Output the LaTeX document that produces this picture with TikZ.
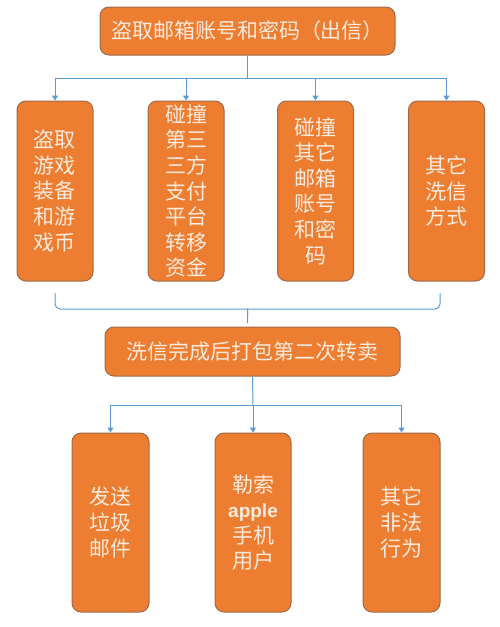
\documentclass[tikz,border=0pt]{standalone}
\usepackage{fontspec}
\newfontfamily\cjk{Noto Sans CJK SC}
\newfontfamily\lat{Liberation Sans}
\usetikzlibrary{arrows.meta}
\definecolor{boxfill}{HTML}{ED7D31}
\definecolor{boxline}{HTML}{A06A48}
\definecolor{txt}{HTML}{FDEBDD}
\definecolor{connc}{HTML}{5B9BD5}
\begin{document}
\begin{tikzpicture}[x=1pt,y=-1pt,
 box/.style={draw=boxline, line width=1pt, fill=boxfill, rounded corners=9pt, text=txt, font=\cjk\fontsize{21}{25.6}\selectfont, align=center, inner sep=0pt},
 wide/.style={box, minimum width=295pt, minimum height=48pt},
 tall/.style={box, minimum width=76pt, minimum height=180pt},
 conn/.style={draw=connc, line width=1pt},
 arr/.style={conn, -{Triangle[length=5pt,width=6pt]}}]
\useasboundingbox (0,0) rectangle (500,627);
\node[wide] (top) at (247.5,31) {盗取邮箱账号和密码（出信）};
\node[tall] (a1) at (55,191) {盗取\\游戏\\装备\\和游\\戏币};
\node[tall] (a2) at (186,191) {碰撞\\第三\\三方\\支付\\平台\\转移\\资金};
\node[tall] (a3) at (315.5,191) {碰撞\\其它\\邮箱\\账号\\和密\\码};
\node[tall] (a4) at (446.5,191) {其它\\洗信\\方式};
\node[wide, minimum height=49pt] (mid) at (252.5,351.5) {洗信完成后打包第二次转卖};
\node[tall, minimum height=179pt, minimum width=77pt] (c1) at (110.5,522.5) {发送\\垃圾\\邮件};
\node[tall, minimum height=179pt] (c2) at (253,522.5) {勒索\\{\lat\bfseries\fontsize{19}{25.6}\selectfont apple}\\手机\\用户};
\node[tall, minimum height=179pt, minimum width=77pt] (c3) at (401.5,522.5) {其它\\非法\\行为};
\coordinate (j1) at (247.5,78);
\draw[conn] (top.south) -- (j1);
\foreach \n in {a1,a2,a3,a4} \draw[arr] (j1) -| (\n.north);
\coordinate (bl) at (55,293);
\coordinate (br) at (440,293);
\coordinate (bm) at (247.5,315);
\coordinate (tip) at (247.5,323);
\draw[conn, rounded corners=5pt] (bl) |- (242.5,309) .. controls (247.5,309) .. (bm) -- (tip);
\draw[conn, rounded corners=5pt] (br) |- (252.5,309) .. controls (247.5,309) .. (bm);
\coordinate (j2) at (253,405);
\draw[conn] (mid.south) -- (j2);
\foreach \n in {c1,c2,c3} \draw[arr] (j2) -| (\n.north);
\end{tikzpicture}
\end{document}
